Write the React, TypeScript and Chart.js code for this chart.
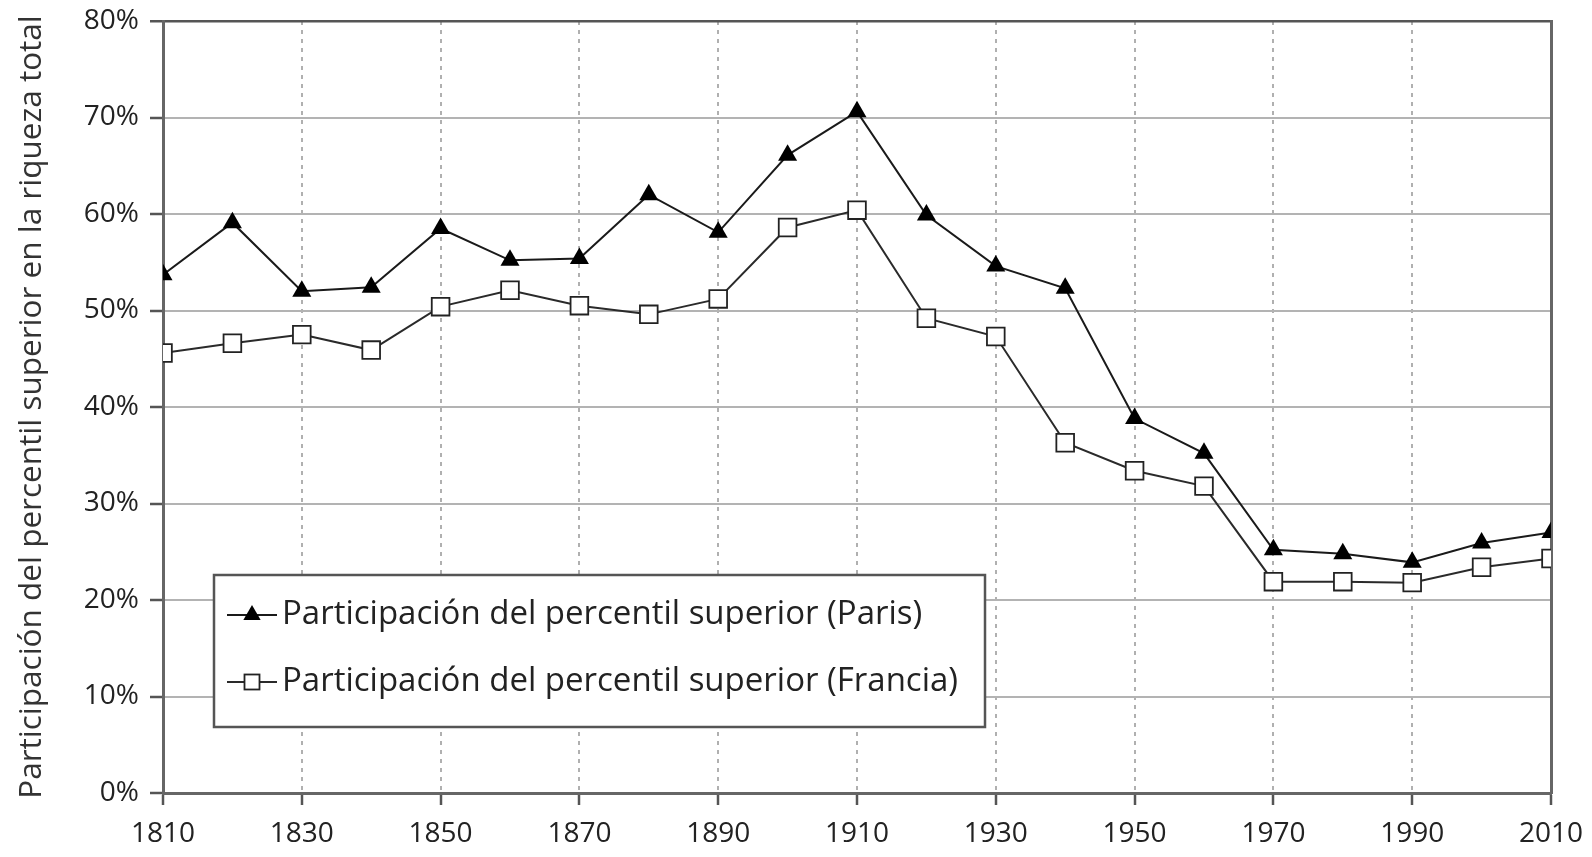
import React, { useEffect, useRef } from "react";
import { Chart, registerables } from "chart.js";

Chart.register(...registerables);

const years = [1810, 1820, 1830, 1840, 1850, 1860, 1870, 1880, 1890, 1900, 1910, 1920, 1930, 1940, 1950, 1960, 1970, 1980, 1990, 2000, 2010];
const parisShare = [53.7, 59.1, 52.0, 52.4, 58.5, 55.2, 55.4, 62.0, 58.1, 66.1, 70.6, 59.9, 54.6, 52.3, 38.8, 35.2, 25.2, 24.8, 23.9, 25.9, 27.0];
const franceShare = [45.6, 46.6, 47.5, 45.9, 50.4, 52.1, 50.5, 49.6, 51.2, 58.6, 60.4, 49.2, 47.3, 36.3, 33.4, 31.8, 21.9, 21.9, 21.8, 23.4, 24.3];
const xTickValues = [1810, 1830, 1850, 1870, 1890, 1910, 1930, 1950, 1970, 1990, 2010];
const yTickValues = [0, 10, 20, 30, 40, 50, 60, 70, 80];
const seriesLabels = [
  "Participación del percentil superior (Paris)",
  "Participación del percentil superior (Francia)",
];
const yAxisTitle = "Participación del percentil superior en la riqueza total";

const FONT = "'Open Sans', 'Liberation Sans', sans-serif";

const legendBoxPlugin = {
  id: "legendBox",
  afterDraw(chart: any) {
    const ctx = chart.ctx as CanvasRenderingContext2D;
    const area = chart.chartArea;
    const bx = area.left + 51;
    const by = area.top + 554;
    const bw = 771;
    const bh = 152;
    ctx.save();
    ctx.fillStyle = "#ffffff";
    ctx.fillRect(bx, by, bw, bh);
    ctx.strokeStyle = "#555555";
    ctx.lineWidth = 2.5;
    ctx.strokeRect(bx, by, bw, bh);
    chart.data.datasets.forEach((ds: any, i: number) => {
      const cy = by + 40 + i * 67;
      const lx0 = bx + 13;
      const lx1 = bx + 63;
      const mx = (lx0 + lx1) / 2;
      ctx.strokeStyle = ds.borderColor;
      ctx.lineWidth = 2;
      ctx.beginPath();
      ctx.moveTo(lx0, cy);
      ctx.lineTo(lx1, cy);
      ctx.stroke();
      if (ds.pointStyle === "triangle") {
        const r = 10;
        ctx.fillStyle = ds.pointBackgroundColor;
        ctx.beginPath();
        ctx.moveTo(mx, cy - r);
        ctx.lineTo(mx + r * 0.866, cy + r / 2);
        ctx.lineTo(mx - r * 0.866, cy + r / 2);
        ctx.closePath();
        ctx.fill();
      } else {
        const s = 7.5;
        ctx.fillStyle = ds.pointBackgroundColor;
        ctx.fillRect(mx - s, cy - s, 2 * s, 2 * s);
        ctx.strokeStyle = ds.pointBorderColor;
        ctx.lineWidth = 1.8;
        ctx.strokeRect(mx - s, cy - s, 2 * s, 2 * s);
      }
      ctx.fillStyle = "#222222";
      ctx.font = `33px ${FONT}`;
      ctx.textAlign = "left";
      ctx.textBaseline = "middle";
      ctx.fillText(ds.label, lx1 + 5, cy);
    });
    ctx.restore();
  },
};

export default function App() {
  const canvasRef = useRef<HTMLCanvasElement | null>(null);

  useEffect(() => {
    document.body.style.margin = "0";
    const canvas = canvasRef.current;
    if (!canvas) return;
    const chart = new Chart(canvas, {
      type: "line",
      data: {
        datasets: [
          {
            label: seriesLabels[0],
            data: years.map((y, i) => ({ x: y, y: parisShare[i] })),
            borderColor: "#1a1a1a",
            borderWidth: 2,
            pointStyle: "triangle",
            pointRadius: 11,
            pointBackgroundColor: "#000000",
            pointBorderColor: "#000000",
            pointBorderWidth: 0,
            tension: 0,
          },
          {
            label: seriesLabels[1],
            data: years.map((y, i) => ({ x: y, y: franceShare[i] })),
            borderColor: "#2a2a2a",
            borderWidth: 2,
            pointStyle: "rect",
            pointRadius: 12.5,
            pointBackgroundColor: "#ffffff",
            pointBorderColor: "#222222",
            pointBorderWidth: 1.8,
            tension: 0,
          },
        ],
      },
      options: {
        animation: false,
        responsive: false,
        maintainAspectRatio: false,
        layout: { padding: { top: 21, right: 41, left: 0, bottom: 0 } },
        plugins: {
          legend: { display: false },
          tooltip: { enabled: false },
        },
        scales: {
          x: {
            type: "linear",
            min: 1810,
            max: 2010,
            afterBuildTicks: (scale: any) => {
              scale.ticks = xTickValues.map((v) => ({ value: v }));
            },
            afterFit: (scale: any) => {
              scale.height = 64;
              scale.paddingLeft = 0;
              scale.paddingRight = 0;
            },
            ticks: {
              autoSkip: false,
              maxRotation: 0,
              padding: 12,
              color: "#222222",
              font: { family: FONT, size: 28 },
              callback: (v: any) => String(v),
            },
            grid: {
              color: (c: any) =>
                c.tick && (c.tick.value === 1810 || c.tick.value === 2010) ? "rgba(0,0,0,0)" : "#b0b0b0",
              lineWidth: 2,
              tickColor: "#555555",
              tickWidth: 2.5,
              tickLength: 12,
            },
            border: { display: true, color: "#666666", width: 3, dash: [4, 5] },
          },
          y: {
            type: "linear",
            min: 0,
            max: 80,
            afterBuildTicks: (scale: any) => {
              scale.ticks = yTickValues.map((v) => ({ value: v }));
            },
            afterFit: (scale: any) => {
              scale.width = 163;
              scale.paddingTop = 0;
              scale.paddingBottom = 0;
            },
            ticks: {
              padding: 11,
              color: "#222222",
              font: { family: FONT, size: 28 },
              callback: (v: any) => `${v}%`,
            },
            grid: {
              color: (c: any) => (c.tick && c.tick.value === 80 ? "#555555" : "#b3b3b3"),
              lineWidth: (c: any) => (c.tick && c.tick.value === 80 ? 2.5 : 2),
              tickColor: "#555555",
              tickWidth: 2.5,
              tickLength: 13,
            },
            border: { display: true, color: "#666666", width: 3 },
            title: {
              display: true,
              text: yAxisTitle,
              color: "#333333",
              font: { family: FONT, size: 31.5 },
              padding: { top: 13, bottom: 0 },
            },
          },
          y2: {
            type: "linear",
            position: "right",
            display: true,
            afterFit: (scale: any) => {
              scale.width = 0;
              scale.paddingTop = 0;
              scale.paddingBottom = 0;
            },
            ticks: { display: false },
            grid: { drawOnChartArea: false, drawTicks: false },
            border: { display: true, color: "#666666", width: 3 },
          },
        },
      },
      plugins: [legendBoxPlugin],
    } as any);
    return () => chart.destroy();
  }, []);

  return (
    <div style={{ position: "fixed", left: 0, top: 0, width: 1592, height: 857, background: "#ffffff" }}>
      <canvas ref={canvasRef} width={1592} height={857} style={{ width: 1592, height: 857, display: "block" }} />
    </div>
  );
}
